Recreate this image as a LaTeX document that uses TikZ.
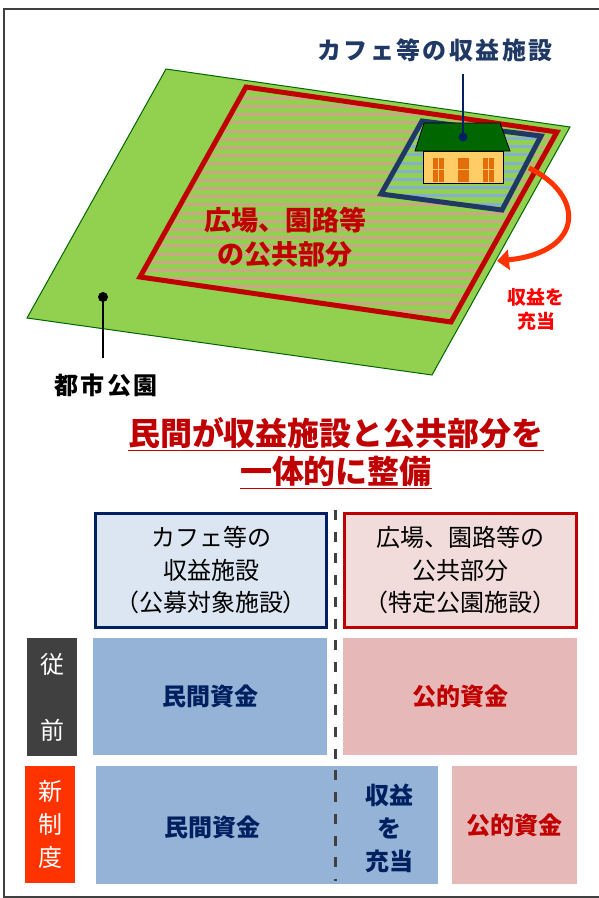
\documentclass[tikz,border=0pt]{standalone}
\usepackage{fontspec}
\setmainfont{Noto Sans CJK JP}
\newfontfamily\widejp[LetterSpace = 10]{Noto Sans CJK JP}
\usepackage{tikz}
\usetikzlibrary{arrows.meta}

\definecolor{parkgreen}{HTML}{92D050}
\definecolor{darkgreen}{HTML}{006600}
\definecolor{plaza}{HTML}{CAA684}
\definecolor{water}{HTML}{86AED0}
\definecolor{deepred}{HTML}{C00000}
\definecolor{navy}{HTML}{1F3864}
\definecolor{deepnavy}{HTML}{002060}
\definecolor{paleblue}{HTML}{DCE6F2}
\definecolor{palered}{HTML}{F2DCDB}
\definecolor{fundblue}{HTML}{95B3D7}
\definecolor{fundred}{HTML}{E6B9B8}
\definecolor{tagdark}{HTML}{404040}
\definecolor{tagred}{HTML}{FF3300}
\definecolor{housewall}{HTML}{FFCC66}
\definecolor{window}{HTML}{E46C0A}

\begin{document}
\begin{tikzpicture}[x = 1pt, y = -1pt,
		stripe/.style = {line width = 3pt},
		box/.style = {rectangle, inner sep = 0pt, line width = 3pt, align = center,
			font = \fontsize{24}{32.5}\selectfont},
		fund/.style = {rectangle, inner sep = 0pt, font = \bfseries\fontsize{24}{33}\selectfont, align = center},
		tag/.style = {rectangle, inner sep = 0pt, minimum width = 50pt, text = white,
			font = \fontsize{24}{33}\selectfont, align = center}]

	\useasboundingbox (0, 0) rectangle (598, 898);
	\draw[tagdark, line width = 2pt] (600, 9) -- (4, 9) -- (4, 897) -- (600, 897);

	\draw[darkgreen, fill = parkgreen, line width = 1pt] (166, 69) -- (570, 127) -- (432, 375) -- (27, 318) -- cycle;

	\begin{scope}
		\clip (246, 87) -- (557, 132) -- (451, 322) -- (140, 277) -- cycle;
		\foreach \y in {90, 98.2, ..., 330}
			\draw[stripe, plaza] (130, \y) -- (570, \y);
	\end{scope}
	\begin{scope}
		\clip (422, 121) -- (541, 136) -- (502, 210) -- (381, 194) -- cycle;
		\fill[parkgreen] (370, 115) rectangle (550, 215);
		\foreach \y in {122, 130.2, ..., 214}
			\draw[stripe, water] (370, \y) -- (550, \y);
	\end{scope}
	\draw[deepred, line width = 5pt] (246, 87) -- (557, 132) -- (451, 322) -- (140, 277) -- cycle;
	\draw[navy, line width = 5pt] (422, 121) -- (541, 136) -- (502, 210) -- (381, 194) -- cycle;

	\draw[fill = housewall, line width = 0.8pt] (423, 151) rectangle (503, 183);
	\foreach \x in {433, 458, 483} {
		\fill[window] (\x, 158) rectangle ++(11, 24);
		\draw[housewall, line width = 1.2pt] (\x, 169.5) -- ++(11, 0);
	}
	\draw[housewall, line width = 1.2pt] (438.5, 158) -- ++(0, 24);
	\draw[housewall, line width = 1.2pt] (488.5, 158) -- ++(0, 24);
	\draw[fill = darkgreen, line width = 0.8pt] (424, 123) -- (500, 123) -- (510, 151) -- (415, 151) -- cycle;

	\coordinate (roof) at (463, 137);
	\fill[deepnavy] (roof) circle [radius = 4.5];
	\node[navy, font = \widejp\bfseries\fontsize{24}{28}\selectfont] (cafe) at (435, 50) {カフェ等の収益施設};
	\draw[deepnavy, line width = 1.5pt, shorten <= 9pt] (roof |- cafe.south) -- (roof);

	\coordinate (lawn) at (103, 297);
	\fill (lawn) circle [radius = 5];
	\node[font = \widejp\bfseries\fontsize{24}{28}\selectfont] (parklbl) at (106, 385) {都市公園};
	\draw[line width = 1.5pt, shorten >= 12pt] (lawn) -- (lawn |- parklbl.north);

	\node[deepred, font = \bfseries\fontsize{27}{34}\selectfont, align = center] (plazalbl) at (285, 237) {広場、園路等\\の公共部分};

	\coordinate (src) at (529, 168);
	\coordinate (dst) at (497, 261);
	\draw[tagred, line width = 5pt, -{Triangle[length = 12pt, width = 20pt]}] (src) .. controls (585, 195) and (585, 252) .. (dst);
	\node[red, font = \bfseries\fontsize{19}{24}\selectfont, align = center] (sharelbl) at (536, 309) {収益を\\充当};

	\node[deepred, font = \bfseries\fontsize{32}{38}\selectfont, align = center] (title) at (336, 453)
		{\underline{民間が収益施設と公共部分を}\\\underline{一体的に整備}};

	\node[box, draw = deepnavy, fill = paleblue, minimum width = 231pt, minimum height = 114pt] (hdrcafe) at (211, 570.5)
		{カフェ等の\\収益施設\\（公募対象施設）};
	\node[box, draw = deepred, fill = palered, minimum width = 232pt, minimum height = 114pt] (hdrplaza) at (460.5, 570.5)
		{広場、園路等の\\公共部分\\（特定公園施設）};

	\node[tag, fill = tagdark, minimum height = 118pt] (before) at (52, 697) {従\\[33pt]前};
	\node[tag, fill = tagred, minimum height = 117pt] (after) at (50, 824.5) {新\\制\\度};

	\node[fund, fill = fundblue, minimum width = 234pt, minimum height = 117pt, text = deepnavy] (oldpriv) at (210, 696.5) {民間資金};
	\node[fund, fill = fundred, minimum width = 234pt, minimum height = 117pt, text = deepred] (oldpub) at (460, 696.5) {公的資金};

	\node[fund, fill = fundblue, minimum width = 342pt, minimum height = 118pt] (newpriv) at (267, 825) {};
	\node[fund, text = deepnavy] (newprivlbl) at (212, 827) {民間資金};
	\node[fund, text = deepnavy] (newshare) at (389, 828) {収益\\を\\充当};
	\node[fund, fill = fundred, minimum width = 125pt, minimum height = 118pt, text = deepred] (newpub) at (514.5, 825) {公的資金};

	\coordinate (cuttop) at (335, 510);
	\coordinate (cutbot) at (335, 881);
	\draw[tagdark, line width = 3pt, dash pattern = on 10pt off 11.7pt] (cuttop) -- (cutbot);
\end{tikzpicture}
\end{document}
